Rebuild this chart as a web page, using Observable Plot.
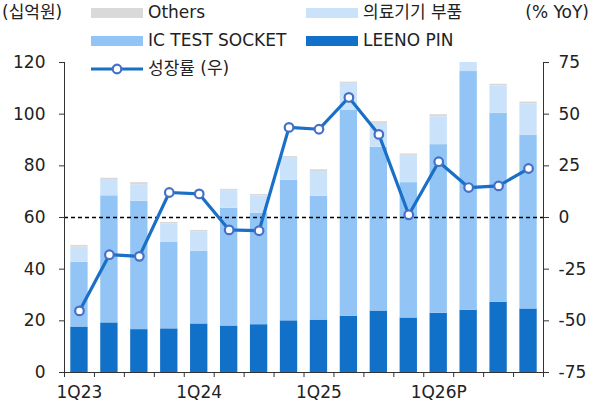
<!DOCTYPE html>
<html>
<head>
<meta charset="utf-8">
<script src="https://cdn.jsdelivr.net/npm/d3@7"></script>
<script src="https://cdn.jsdelivr.net/npm/@observablehq/plot@0.6"></script>
<style>
  html, body { margin: 0; padding: 0; background: #fff; }
  #wrap { position: relative; width: 597px; height: 405px; font-family: "DejaVu Sans", "Noto Sans CJK KR", sans-serif; color: #222; }
  #chart { position: absolute; left: 0; top: 0; }
  .lg { position: absolute; font-size: 17px; line-height: 1; white-space: nowrap; }
  .sw { position: absolute; width: 52px; height: 10px; }
</style>
</head>
<body>
<div id="wrap">
  <div id="chart"></div>
  <div id="legend"></div>
</div>
<script>
const quarters = ["1Q23","2Q23","3Q23","4Q23","1Q24","2Q24","3Q24","4Q24","1Q25","2Q25","3Q25","4Q25","1Q26P","2Q26P","3Q26P","4Q26P"];
const tickQuarters = ["1Q23","1Q24","1Q25","1Q26P"];
const leenoPin     = [17.6, 19.2, 16.6, 16.9, 18.8, 18.0, 18.5, 20.0, 20.3, 21.8, 23.8, 21.1, 22.9, 24.1, 27.2, 24.6];
const icTestSocket = [25.1, 49.2, 49.7, 33.6, 28.2, 45.6, 43.2, 54.4, 47.9, 79.8, 63.4, 52.4, 65.3, 92.4, 73.1, 67.3];
const medical      = [5.8, 6.3, 6.4, 7.1, 7.3, 6.8, 6.7, 8.5, 9.6, 10.0, 9.2, 10.3, 10.8, 11.0, 10.7, 12.0];
const others       = [0.7, 0.5, 0.8, 0.5, 0.7, 0.5, 0.5, 0.7, 0.7, 0.8, 0.7, 0.8, 0.8, 0.8, 0.6, 0.8];
const growth       = [-45.2, -18.0, -18.8, 12.1, 11.4, -6.0, -6.4, 43.6, 42.7, 58.1, 40.2, 1.3, 27.0, 14.5, 15.3, 23.7];
const seriesNames  = ["LEENO PIN", "IC TEST SOCKET", "의료기기 부품", "Others"];
const seriesColors = ["#1170c8", "#92c5f5", "#cbe3fa", "#d9d9d9"];
const leftTicks  = [0, 20, 40, 60, 80, 100, 120];
const rightTicks = [-75, -50, -25, 0, 25, 50, 75];
const growthLabel = "성장률 (우)";

const seriesValues = [leenoPin, icTestSocket, medical, others];
const rows = quarters.flatMap((q, i) => seriesNames.map((s, k) => ({i, q, s, v: seriesValues[k][i]})));
const growthRows = growth.map((g, i) => ({i, g}));

// right axis (-75..75) mapped onto left axis (0..120)
const toLeft = g => (g + 75) * 120 / 150;

const chart = Plot.plot({
  width: 597,
  height: 405,
  marginLeft: 64,
  marginRight: 54,
  marginTop: 62,
  marginBottom: 33,
  style: {fontFamily: "'DejaVu Sans', 'Noto Sans CJK KR', sans-serif", fontSize: "17px", color: "#222", background: "transparent", overflow: "visible"},
  x: {type: "linear", domain: [0, quarters.length], axis: null, label: null},
  y: {domain: [0, 120], clamp: true, axis: null, label: null},
  color: {domain: seriesNames, range: seriesColors},
  marks: [
    Plot.rectY(rows, {x1: "i", x2: d => d.i + 1, y: "v", fill: "s", order: seriesNames, insetLeft: 6.3, insetRight: 6.3}),
    Plot.ruleY([60], {stroke: "#000", strokeWidth: 1.3, strokeDasharray: "4,3"}),
    Plot.line(growthRows, {x: d => d.i + 0.5, y: d => toLeft(d.g), stroke: "#1a6fc6", strokeWidth: 3.2}),
    Plot.dot(growthRows, {x: d => d.i + 0.5, y: d => toLeft(d.g), r: 4.3, fill: "white", stroke: "#4570c6", strokeWidth: 2.2}),
    Plot.ruleX([0], {stroke: "#333"}),
    Plot.ruleX([quarters.length], {stroke: "#333"}),
    Plot.ruleY([0], {stroke: "#333"}),
    Plot.axisY({anchor: "left", label: null, ticks: leftTicks, tickSize: 5, tickPadding: 14, stroke: "#333", fill: "#222"}),
    Plot.axisY({anchor: "right", label: null, ticks: rightTicks.map(toLeft), tickFormat: v => String(Math.round(v * 150 / 120 - 75)), tickSize: 5, tickPadding: 10, stroke: "#333", fill: "#222"}),
    Plot.axisX({label: null, ticks: d3.range(quarters.length + 1), tickFormat: () => "", tickSize: 5, stroke: "#333"}),
    Plot.axisX({label: null, ticks: tickQuarters.map(q => quarters.indexOf(q) + 0.5), tickFormat: v => quarters[v - 0.5], tickSize: 0, tickPadding: 13, fill: "#222"})
  ]
});
document.getElementById("chart").appendChild(chart);

// Legend (HTML overlay)
const legend = document.getElementById("legend");
function addText(txt, left, cy, right) {
  const el = document.createElement("div");
  el.className = "lg";
  el.textContent = txt;
  if (right != null) el.style.right = right + "px"; else el.style.left = left + "px";
  el.style.top = (cy - 9) + "px";
  legend.appendChild(el);
}
function addSwatch(color, left, cy) {
  const el = document.createElement("div");
  el.className = "sw";
  el.style.left = left + "px";
  el.style.top = (cy - 5) + "px";
  el.style.background = color;
  legend.appendChild(el);
}
addText("(십억원)", 2, 13);
addText("(% YoY)", null, 13, 8);
const legendOrder = [["Others", 91, 13], ["의료기기 부품", 306, 13], ["IC TEST SOCKET", 91, 41], ["LEENO PIN", 306, 41]];
legendOrder.forEach(([name, left, cy]) => {
  addSwatch(seriesColors[seriesNames.indexOf(name)], left, cy);
  addText(name, left + 57, cy);
});
// growth legend line + marker
const ln = document.createElementNS("http://www.w3.org/2000/svg", "svg");
ln.setAttribute("width", 56); ln.setAttribute("height", 16);
ln.style.position = "absolute"; ln.style.left = "89px"; ln.style.top = "61px";
ln.innerHTML = '<line x1="2" x2="54" y1="8" y2="8" stroke="#1a6fc6" stroke-width="3.2"/><circle cx="28" cy="8" r="4.3" fill="white" stroke="#4570c6" stroke-width="2.2"/>';
legend.appendChild(ln);
addText(growthLabel, 148, 69);
</script>
</body>
</html>
